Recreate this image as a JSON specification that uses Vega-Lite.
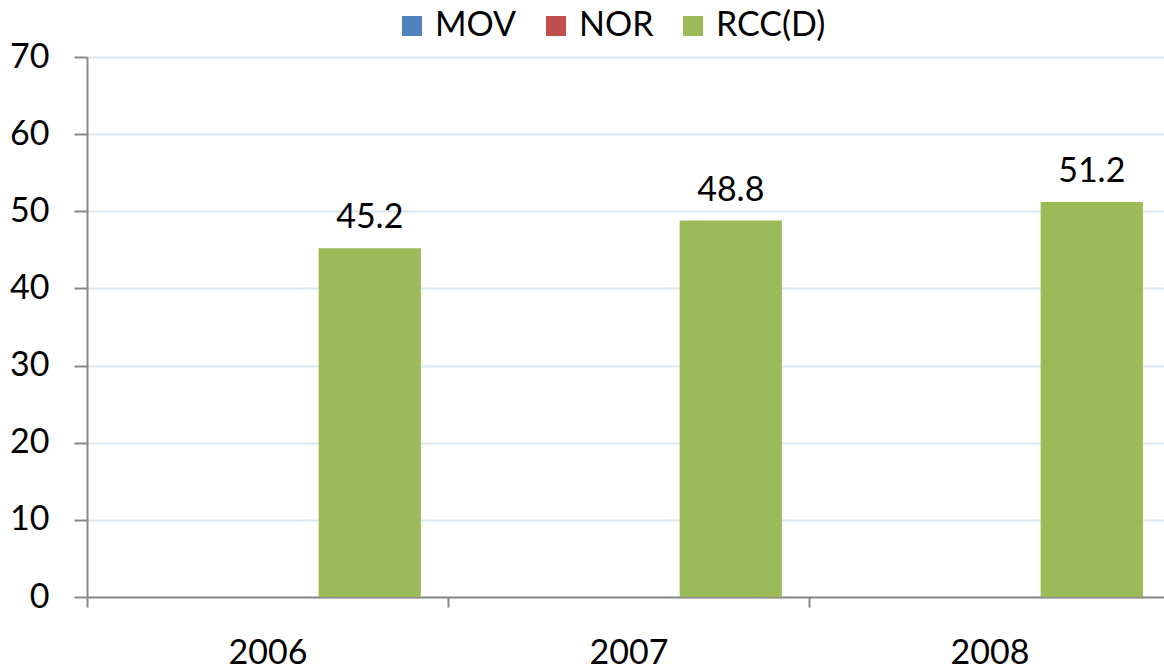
{
  "$schema": "https://vega.github.io/schema/vega-lite/v6.json",
  "width": 1083,
  "height": 540,
  "autosize": {"type": "none"},
  "padding": {"left": 87, "top": 57, "right": 0, "bottom": 73},
  "background": "white",
  "config": {
    "view": {"stroke": null},
    "font": "Lato",
    "axis": {"labelFont": "Lato", "labelFontSize": 34, "labelColor": "#000000", "domainColor": "#898989", "tickColor": "#898989", "domainWidth": 2, "tickWidth": 2}
  },
  "data": {
    "values": [
      {"year": "2006", "series": "RCC(D)", "value": 45.2},
      {"year": "2007", "series": "RCC(D)", "value": 48.8},
      {"year": "2008", "series": "RCC(D)", "value": 51.2}
    ]
  },
  "encoding": {
    "x": {
      "field": "year", "type": "nominal",
      "scale": {"domain": ["2006", "2007", "2008"], "paddingInner": 0, "paddingOuter": 0},
      "axis": {"title": null, "labelAngle": 0, "tickBand": "extent", "tickSize": 10, "labelPadding": 29, "grid": false}
    },
    "xOffset": {
      "field": "series", "type": "nominal",
      "scale": {"domain": ["MOV", "NOR", "RCC(D)"], "paddingInner": 0, "paddingOuter": 0.265}
    },
    "y": {
      "field": "value", "type": "quantitative",
      "scale": {"domain": [0, 70], "nice": false},
      "axis": {"title": null, "values": [0, 10, 20, 30, 40, 50, 60, 70], "tickSize": 13, "labelPadding": 25, "grid": true, "gridColor": "#dce6f0", "gridWidth": 2, "labelBaseline": "middle"}
    }
  },
  "layer": [
    {
      "mark": {"type": "bar"},
      "encoding": {
        "color": {
          "field": "series", "type": "nominal",
          "scale": {"domain": ["MOV", "NOR", "RCC(D)"], "range": ["#4F81BD", "#C0504D", "#9BBB59"]},
          "legend": {
            "title": null, "orient": "none", "direction": "horizontal",
            "legendX": 308, "legendY": -48,
            "symbolType": "square", "symbolSize": 400, "symbolStrokeWidth": 0,
            "labelFontSize": 34, "labelFont": "Lato", "labelColor": "#000000",
            "labelOffset": 6, "columnPadding": 22, "labelLimit": 300
          }
        }
      }
    },
    {
      "mark": {"type": "text", "baseline": "alphabetic", "dy": -20, "fontSize": 34, "font": "Lato", "color": "#000000"},
      "encoding": {
        "text": {"field": "value", "type": "quantitative", "format": ".1f"}
      }
    }
  ]
}
